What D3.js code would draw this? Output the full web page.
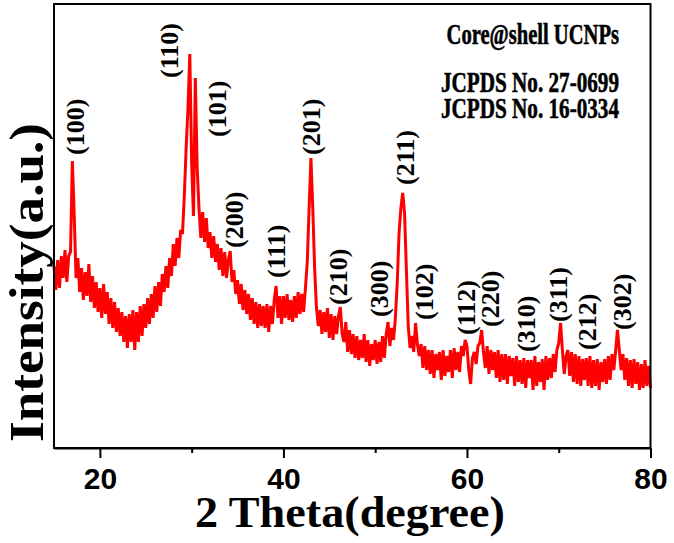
<!DOCTYPE html>
<html>
<head>
<meta charset="utf-8">
<script src="https://cdn.jsdelivr.net/npm/d3@7"></script>
<style>
html,body{margin:0;padding:0;background:#fff;}
svg{display:block;}
</style>
</head>
<body>
<svg id="chart" width="674" height="543" xmlns="http://www.w3.org/2000/svg"></svg>
<script>
// ---- data ----
const scanStart = 15;      // degrees 2θ
const scanStep = 0.2;      // degrees per point
const intensity = [
  182,158,188,160,192, 170,198,166,192,196, 287,234,170,190,156, 180,148,176,152,184,
  146,172,140,166,136, 160,130,164,134,156, 124,150,120,146,116, 140,112,136,106,132,
  100,134,106,138,98,  136,106,142,112,144, 120,150,124,154,130, 162,136,166,142,174,
  156,182,160,190,172, 204,182,210,190,218, 214,252,300,340,394, 285,232,370,280,240,
  210,236,206,230,200, 216,190,212,186,204, 178,200,172,196,170, 188,197,166,178,154,
  168,144,164,138,158, 134,154,128,150,124, 146,120,144,122,142, 120,144,116,142,124,
  148,162,130,152,124, 152,130,154,128,148, 126,152,130,156,134, 154,136,160,186,240,
  290,240,180,140,122, 138,114,136,116,140, 110,134,108,132,114, 132,141,114,106,126,
  96,118,94,114,90,    112,88,108,90,114,   86,108,82,104,88,    108,84,106,86,112,
  90,114,126,102,120,  108,130,165,215,240, 255,235,178,122,100, 112,96,125,104,92,
  104,80,102,78,98,    74,98,70,94,78,      96,68,98,72,92,      76,98,70,100,78,
  96,76,102,92,108,    102,78,64,90,96,     84,102,105,118,96,   80,102,74,98,78,
  96,70,98,66,94,      68,94,64,92,72,      90,62,92,66,88,      64,90,60,88,70,
  88,58,92,62,86,      66,89,58,92,68,      90,70,94,76,98,      105,125,98,74,92,
  98,72,96,66,94,      64,92,62,89,68,      90,62,92,60,88,      62,89,58,86,66,
  89,64,92,68,94,      78,97,118,98,78,     94,68,90,62,88,      60,89,64,86,58,
  84,60,88,62,82,      60
];
const peakLabels = ["(100)","(110)","(101)","(200)","(111)","(201)","(210)","(300)",
                    "(211)","(102)","(112)","(220)","(310)","(311)","(212)","(302)"];
const peakAngles = [17.29,27.49,32.72,34.63,39.21,42.97,45.92,50.45,
                    53.28,55.35,59.93,62.55,66.37,69.91,73.02,76.89];
const peakLabelLevels = [293,370,311,200,170,293,143,131,263,128,113,121,96,126,98,118];
const xTicks = [20,40,60,80];
const xMinorTicks = [30,50,70];
const notes = ["Core@shell UCNPs","JCPDS No. 27-0699","JCPDS No. 16-0334"];

// ---- layout ----
const L = 54, R = 650.5, T = 4, B = 448;
const svg = d3.select("#chart");
const x = d3.scaleLinear().domain([15,80]).range([L,R]);
const y = d3.scaleLinear().domain([0,444]).range([B,T]);

const pts = intensity.map((v,i)=>[scanStart + i*scanStep, v]);

// trace
svg.append("path")
  .datum(pts)
  .style("fill","none")
  .style("stroke","#ff0000")
  .style("stroke-width","3px")
  .style("stroke-linejoin","miter")
  .attr("d", d3.line().x(d=>x(d[0])).y(d=>y(d[1])));

// x axis (major + minor ticks)
const ax = svg.append("g").attr("transform",`translate(0,${B})`)
  .call(d3.axisBottom(x).tickValues(xTicks).tickSize(10).tickSizeOuter(0).tickPadding(4).tickFormat(d3.format("d")));
ax.selectAll(".domain").style("stroke","#000").style("stroke-width","2px");
ax.selectAll(".tick line").style("stroke","#000").style("stroke-width","2px");
ax.selectAll(".tick text")
  .style("fill","#000")
  .style("font-family","'Liberation Sans', Arial, sans-serif")
  .style("font-weight","bold")
  .style("font-size","30px")
  .attr("dy",null)
  .attr("y",41);
const axm = svg.append("g").attr("transform",`translate(0,${B})`)
  .call(d3.axisBottom(x).tickValues(xMinorTicks).tickSize(5).tickSizeOuter(0).tickFormat(""));
axm.select(".domain").remove();
axm.selectAll(".tick line").style("stroke","#000").style("stroke-width","2px");

// frame
svg.append("path")
  .attr("d",`M${L},${T}H${R}V${B}H${L}Z`)
  .style("fill","none")
  .style("stroke","#000")
  .style("stroke-width","2px");

// axis titles
svg.append("text")
  .attr("x",350).attr("y",527)
  .attr("text-anchor","middle")
  .style("font-family","'Liberation Serif', 'Times New Roman', serif")
  .style("font-weight","bold")
  .style("font-size","45px")
  .attr("textLength",310).attr("lengthAdjust","spacingAndGlyphs")
  .text("2 Theta(degree)");

svg.append("text")
  .attr("transform","translate(43,282.5) rotate(-90)")
  .attr("text-anchor","middle")
  .style("font-family","'Liberation Serif', 'Times New Roman', serif")
  .style("font-weight","bold")
  .style("font-size","48px")
  .attr("textLength",319).attr("lengthAdjust","spacingAndGlyphs")
  .text("Intensity(a.u.)");

// peak labels
svg.append("g").selectAll("text")
  .data(peakLabels)
  .join("text")
  .attr("transform",(d,i)=>`translate(${x(peakAngles[i])},${y(peakLabelLevels[i])}) rotate(-90)`)
  .attr("dy","0.35em")
  .attr("text-anchor","start")
  .style("font-family","'Liberation Serif', 'Times New Roman', serif")
  .style("font-weight","bold")
  .style("font-size","26px")
  .style("fill","#000")
  .text(d=>d);

// notes (condensed bold serif, right-aligned)
const noteY = [44, 92, 118];
const noteScale = [0.71, 0.73, 0.73];
svg.append("g").selectAll("text")
  .data(notes)
  .join("text")
  .attr("transform",(d,i)=>`translate(619,${noteY[i]}) scale(${noteScale[i]},1)`)
  .attr("text-anchor","end")
  .style("font-family","'Liberation Serif', 'Times New Roman', serif")
  .style("font-weight","bold")
  .style("font-size","29px")
  .style("fill","#000")
  .style("stroke","#000")
  .style("stroke-width","0.6px")
  .text(d=>d);
</script>
</body>
</html>
